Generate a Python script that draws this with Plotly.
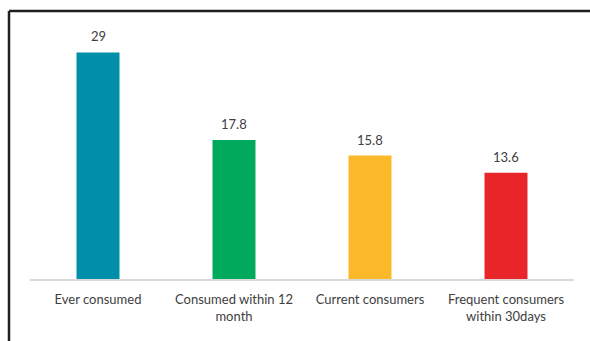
import plotly.graph_objects as go

categories = ["Ever consumed", "Consumed within 12<br>month", "Current consumers", "Frequent consumers<br>within 30days"]
values = [29, 17.8, 15.8, 13.6]
labels = ["29", "17.8", "15.8", "13.6"]
colors = ["#008FA8", "#00A95C", "#FBB829", "#E8262A"]

FONT = "Lato"
fig = go.Figure()
fig.add_trace(go.Bar(x=categories, y=values, marker=dict(color=colors, line=dict(width=0)),
                     width=0.316, hoverinfo="skip"))
for c, v, t in zip(categories, values, labels):
    fig.add_annotation(x=c, y=v, text=t, showarrow=False, yanchor="bottom", yshift=6,
                       font=dict(family=FONT, size=13, color="#404040"))

fig.update_layout(
    width=590, height=341,
    margin=dict(l=30, r=16, t=29, b=62),
    paper_bgcolor="white", plot_bgcolor="white",
    showlegend=False,
    font=dict(family=FONT, size=13, color="#404040"),
    xaxis=dict(showline=True, linecolor="#d9d9d9", linewidth=1.5, showgrid=False,
               ticks="outside", ticklen=8, tickcolor="rgba(0,0,0,0)",
               tickfont=dict(family=FONT, size=13, color="#404040")),
    yaxis=dict(range=[0, 32], visible=False, showgrid=False, zeroline=False),
    bargap=0.684,
)
# frame on top and left
fig.add_shape(type="line", xref="paper", yref="paper", x0=-0.0386, x1=1.04, y0=1.072, y1=1.072,
              line=dict(color="#231F20", width=2.5))
fig.add_shape(type="line", xref="paper", yref="paper", x0=-0.0386, x1=-0.0386, y0=1.072, y1=-0.26,
              line=dict(color="#231F20", width=2.5))
fig.write_html("out.html")
